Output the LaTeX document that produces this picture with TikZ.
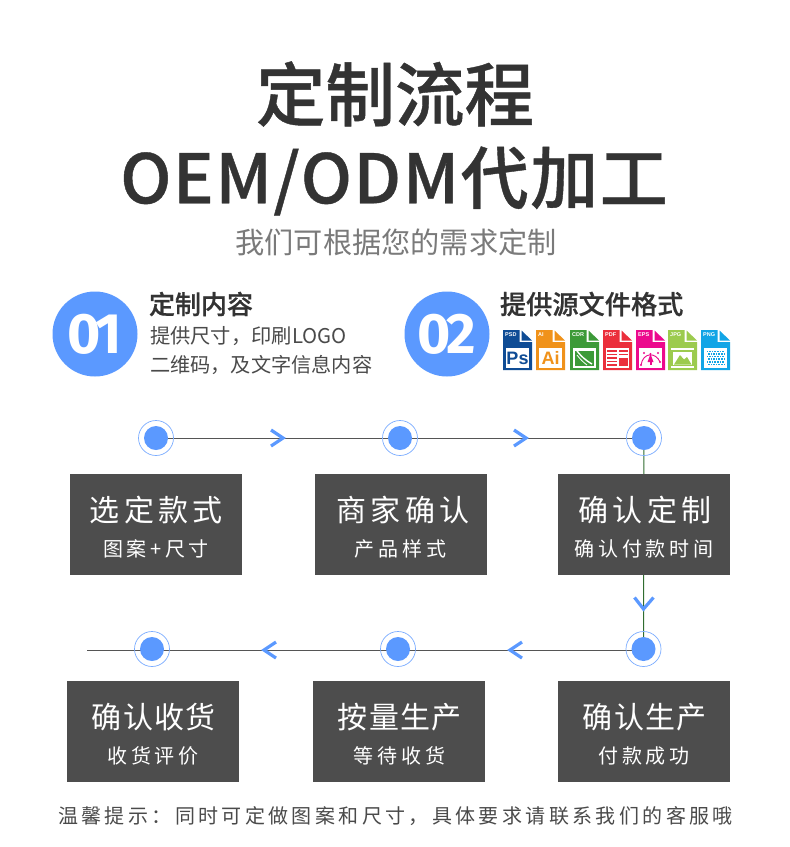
\documentclass[tikz,border=0pt]{standalone}
\usepackage{fontspec}
\usetikzlibrary{backgrounds}
\setmainfont{Noto Sans CJK SC}
\newfontfamily\medfont{Noto Sans CJK SC Medium}[FakeBold=0.6]
\newfontfamily\numfont{Fira Sans}
\newfontfamily\iconfont{Liberation Sans}
\definecolor{ink}{HTML}{333333}
\definecolor{subink}{HTML}{7A7A7A}
\definecolor{bodyink}{HTML}{4A4A4A}
\definecolor{boxgray}{HTML}{4D4D4D}
\definecolor{blue1}{HTML}{5B99FF}
\definecolor{linegray}{HTML}{555555}
\definecolor{psd}{HTML}{0F4C95}
\definecolor{ai}{HTML}{F0921A}
\definecolor{cdr}{HTML}{3C9A38}
\definecolor{pdf}{HTML}{EB2F3C}
\definecolor{eps}{HTML}{EC098D}
\definecolor{jpg}{HTML}{9CCB4E}
\definecolor{png}{HTML}{12A5E6}
\newcommand{\Txt}[3]{\fontsize{#1}{#1}\selectfont\addfontfeature{LetterSpace=#2}#3}
\newcommand{\fileicon}[3]{%
  \begin{scope}[shift={(#1,330)}]
    \fill[#2] (0,0) -- (16.5,0) -- (16.5,12) -- (29,12) -- (29,40) -- (0,40) -- cycle;
    \fill[#2] (18.5,0.5) -- (29,10.5) -- (18.5,10.5) -- cycle;
    \fill[white] (3,18) rectangle (26.2,38);
    \node[iconlabel] at (2,5) {#3};
  \end{scope}}
\tikzset{
  x=1pt,y=-1pt,
  txt/.style={inner sep=0pt,outer sep=0pt,align=center},
  iconlabel/.style={inner sep=0pt,anchor=west,text=white,font=\iconfont\bfseries\fontsize{5.5}{5.5}\selectfont},
  flowbox/.style={fill=boxgray,minimum width=172pt,minimum height=101pt,inner sep=0pt,outer sep=0pt},
  boxhead/.style={txt,text=white},
  boxsub/.style={txt,text=white},
  stepdot/.style={circle,fill=blue1,minimum size=24pt,inner sep=0pt,outer sep=0pt},
  stepring/.style={circle,draw=blue1!80!white,line width=.7pt,minimum size=35pt,inner sep=0pt,outer sep=0pt},
  badge/.style={circle,fill=blue1,minimum size=85pt,inner sep=0pt,text=white},
  flowline/.style={draw=linegray,line width=1pt},
  chev/.style={draw=blue1,line width=3.2pt,miter limit=10},
}
\begin{document}
\begin{tikzpicture}
\useasboundingbox (0,0) rectangle (790,847);
% titles
\node[txt,text=ink] (title1) at (395,94) {\medfont\Txt{69.5}{0}{定制流程}};
\node[txt,text=ink] (title2) at (394,181) {\medfont\Txt{68}{2.3}{OEM/ODM代加工}};
\node[txt,text=subink] (subtitle) at (396,242) {\Txt{29.2}{0}{我们可根据您的需求定制}};
% badges
\node[badge] (b1) at (95,334) {\numfont\bfseries\fontsize{57}{57}\selectfont\addfontfeature{LetterSpace=-7}01};
\node[badge] (b2) at (447,334) {\numfont\bfseries\fontsize{57}{57}\selectfont\addfontfeature{LetterSpace=-7}02};
\node[txt,text=ink,anchor=west] (h1) at (149,304) {\medfont\Txt{26}{0}{定制内容}};
\node[txt,text=bodyink,anchor=west] (l1) at (150,336) {\Txt{20.3}{0}{提供尺寸，印刷LOGO}};
\node[txt,text=bodyink,anchor=west] (l2) at (150,365) {\Txt{20.2}{0}{二维码，及文字信息内容}};
\node[txt,text=ink,anchor=west] (h2) at (500,304) {\medfont\Txt{26.2}{0}{提供源文件格式}};
% file icons
\fileicon{503}{psd}{PSD}
\node[txt,text=psd] at (517.5,358) {\iconfont\bfseries\fontsize{18}{18}\selectfont Ps};
\fileicon{536}{ai}{AI}
\node[txt,text=ai] at (550.5,358) {\iconfont\bfseries\fontsize{18}{18}\selectfont Ai};
\fileicon{570}{cdr}{CDR}
\fill[cdr] (575,350.5) rectangle (594,366);
\draw[white,line width=1.4pt] (577,351) .. controls (581,356) and (585,360) .. (592,364);
\draw[white,line width=.8pt] (577,355) .. controls (580,359) and (583,362) .. (587,365);
\fileicon{603}{pdf}{PDF}
\foreach \yy in {351,354.5,358,361.5,365}{\draw[pdf,line width=1.6pt] (607,\yy) -- (616.5,\yy);}
\foreach \yy in {351,354.5}{\draw[pdf,line width=1.6pt] (619,\yy) -- (628,\yy);}
\fill[pdf] (619,357.5) rectangle (628,366);
\fileicon{636}{eps}{EPS}
\draw[eps,line width=.9pt] (641,365) .. controls (643,352) and (656,352) .. (660,362);
\fill[eps] (650.5,354) -- (647.5,362) -- (653.5,362) -- cycle;
\fill[eps] (649.5,361) rectangle (651.5,365);
\foreach \xx/\yy in {641/365,660/362,650.5/354,644/353,658/353}{\fill[eps] (\xx,\yy) circle (1.2);}
\fileicon{668}{jpg}{JPG}
\draw[jpg,line width=1.1pt] (672,351) rectangle (693,365.5);
\fill[jpg] (674,364.5) -- (680,355) -- (684,359.5) -- (687,357) -- (691.5,364.5) -- cycle;
\fileicon{701}{png}{PNG}
\foreach \i in {0,...,6}{\foreach \j in {0,...,5}{%
  \pgfmathsetmacro{\xo}{mod(\j,2)*1.4}
  \fill[png] ({706.5+\i*2.6+\xo},{350.5+\j*2.6}) rectangle +(1.7,1.7);}}
% step dots
\node[stepring] (r1) at (156,438) {};
\node[stepring] (r2) at (400,438) {};
\node[stepring] (r3) at (644,438) {};
\node[stepring] (r4) at (643.5,649) {};
\node[stepring] (r5) at (398,649) {};
\node[stepring] (r6) at (152,649) {};
\node[stepdot] (d1) at (156,438) {};
\node[stepdot] (d2) at (400,438) {};
\node[stepdot] (d3) at (644,438) {};
\node[stepdot] (d4) at (643.5,649) {};
\node[stepdot] (d5) at (398,649) {};
\node[stepdot] (d6) at (152,649) {};
\coordinate (tail) at (87,650);
% boxes
\node[flowbox] (box1) at (156,524.5) {};
\node[flowbox] (box2) at (401,524.5) {};
\node[flowbox] (box3) at (644,524.5) {};
\node[flowbox] (box4) at (644,731.5) {};
\node[flowbox] (box5) at (399,731.5) {};
\node[flowbox] (box6) at (153,731.5) {};
\node[boxhead] (t1a) at (156.5,510.5) {\Txt{30}{14.5}{选定款式}};
\node[boxsub] (t1b) at (156,549) {\Txt{20}{17.5}{图案+尺寸}};
\node[boxhead] (t2a) at (403,510.5) {\Txt{30}{14.5}{商家确认}};
\node[boxsub] (t2b) at (400,549) {\Txt{20}{20}{产品样式}};
\node[boxhead] (t3a) at (645,510.5) {\Txt{30}{14.5}{确认定制}};
\node[boxsub] (t3b) at (644,549) {\Txt{20}{18.5}{确认付款时间}};
\node[boxhead] (t4a) at (645,717) {\Txt{30}{4.5}{确认生产}};
\node[boxsub] (t4b) at (644,756) {\Txt{20}{19}{付款成功}};
\node[boxhead] (t5a) at (400,717) {\Txt{30}{4.5}{按量生产}};
\node[boxsub] (t5b) at (399,756) {\Txt{20}{20}{等待收货}};
\node[boxhead] (t6a) at (154,717) {\Txt{30}{4.5}{确认收货}};
\node[boxsub] (t6b) at (153,756) {\Txt{20}{19.5}{收货评价}};
% footer
\node[txt,text=bodyink] (foot) at (395.5,816) {\Txt{20}{16.9}{温馨提示：同时可定做图案和尺寸，具体要求请联系我们的客服哦}};
% connectors behind nodes
\begin{scope}[on background layer]
  \fill[white] (0,0) rectangle (790,847);
  \draw[flowline] (d1) -- (d2);
  \draw[flowline] (d2) -- (d3);
  \draw[flowline,draw=linegray!70!green!80!black] (d3) -- (d4);
  \draw[flowline] (d4.center |- tail) -- (d5.center |- tail);
  \draw[flowline] (d5.center |- tail) -- (d6.center |- tail);
  \draw[flowline] (d6.center |- tail) -- (tail);
\end{scope}
% chevrons
\draw[chev] (271,430) -- (283,438) -- (271,446);
\draw[chev] (514,430) -- (526,438) -- (514,446);
\draw[chev] (634.5,597.5) -- (643.5,609) -- (653.5,597.5);
\draw[chev] (276,642) -- (264,650) -- (276,658);
\draw[chev] (522,642) -- (510,650) -- (522,658);
\end{tikzpicture}
\end{document}
